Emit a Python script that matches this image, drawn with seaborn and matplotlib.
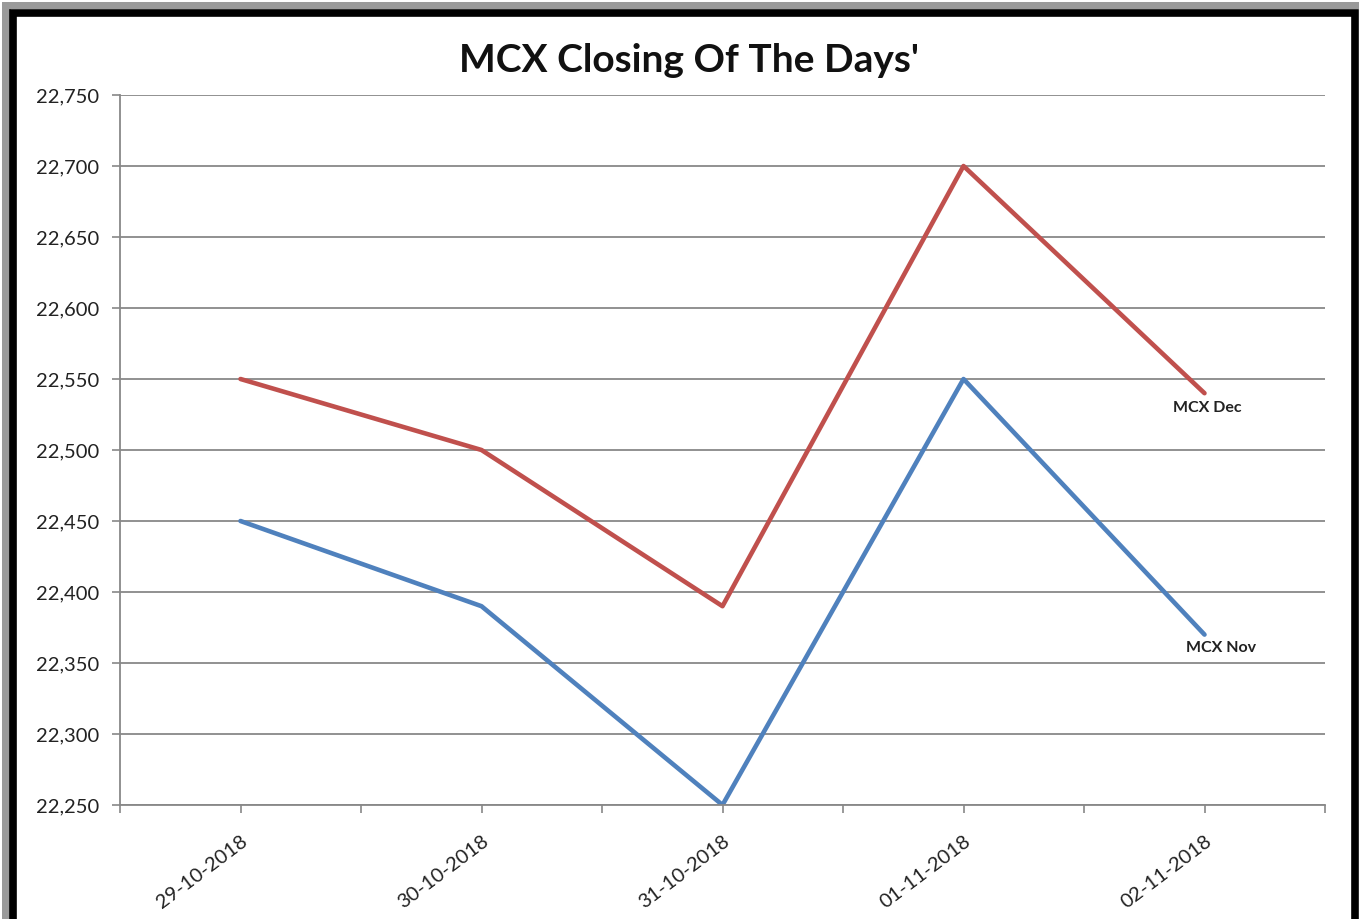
import matplotlib
matplotlib.use("Agg")
import matplotlib.pyplot as plt
import seaborn as sns
import pandas as pd
from matplotlib.patches import Rectangle
from matplotlib.ticker import FuncFormatter, MultipleLocator

dates = ["29-10-2018", "30-10-2018", "31-10-2018", "01-11-2018", "02-11-2018"]
mcx_dec = [22550, 22500, 22390, 22700, 22540]
mcx_nov = [22450, 22390, 22250, 22550, 22370]
series_names = ["MCX Dec", "MCX Nov"]

df = pd.DataFrame({
    "pos": list(range(len(dates))) * 2,
    "value": mcx_dec + mcx_nov,
    "series": [series_names[0]] * len(dates) + [series_names[1]] * len(dates),
})

sns.set_theme(style="white")
plt.rcParams["font.family"] = ["Lato", "DejaVu Sans"]

fig = plt.figure(figsize=(13.63, 9.19), dpi=100)
ax = fig.add_axes([120/1363, 1-805/919, (1325-120)/1363, (805-95)/919])

palette = {"MCX Dec": "#C0504D", "MCX Nov": "#4F81BD"}
sns.lineplot(data=df, x="pos", y="value", hue="series", palette=palette,
             linewidth=3.3, ax=ax, legend=False)

ax.set_xlim(-0.5, len(dates) - 0.5)
ax.set_ylim(22250, 22750)
ax.yaxis.set_major_locator(MultipleLocator(50))
ax.yaxis.set_major_formatter(FuncFormatter(lambda v, p: f"{int(v):,}"))
ax.set_xticks(range(len(dates)))
ax.set_xticklabels(dates, rotation=37, ha="right", rotation_mode="anchor", fontsize=14.5)
ax.xaxis.set_minor_locator(MultipleLocator(0.5))
ax.tick_params(axis="x", which="both", length=6, color="#888888", direction="out",
               bottom=True, width=1.2, pad=14)
ax.tick_params(axis="y", length=6, color="#888888", direction="out", left=True,
               width=1.2, labelsize=14.5, pad=9)
for lab in ax.get_yticklabels() + ax.get_xticklabels():
    lab.set_color("#222222")
ax.set_xlabel("")
ax.set_ylabel("")
ax.grid(axis="y", color="#888888", linewidth=1.3)
ax.set_axisbelow(True)
for s in ["top", "right"]:
    ax.spines[s].set_visible(False)
for s in ["left", "bottom"]:
    ax.spines[s].set_color("#888888")
    ax.spines[s].set_linewidth(1.3)

ax.annotate("MCX Dec", xy=(len(dates) - 1, mcx_dec[-1]), xytext=(2, -11),
            textcoords="offset points", ha="center", va="center",
            fontsize=11.5, fontweight="bold", color="#222222")
ax.annotate("MCX Nov", xy=(len(dates) - 1, mcx_nov[-1]), xytext=(12, -10),
            textcoords="offset points", ha="center", va="center",
            fontsize=11.5, fontweight="bold", color="#222222")

fig.text(689/1363, 1-61/919, "MCX Closing Of The Days'", ha="center", va="center",
         fontsize=28, fontweight="bold", color="#111111")

# figure frame with shadow
fig.patches.append(Rectangle((2/1363, 0), 9/1363, 1-3/919, transform=fig.transFigure,
                             facecolor="#9a9a9a", edgecolor="none", zorder=0))
fig.patches.append(Rectangle((2/1363, 1-9/919), 1-6/1363, 7/919, transform=fig.transFigure,
                             facecolor="#9a9a9a", edgecolor="none", zorder=0))
fig.patches.append(Rectangle((13/1363, -0.01), (1355-13)/1363, 1-13/919+0.01,
                             transform=fig.transFigure, facecolor="none",
                             edgecolor="black", linewidth=5.5, zorder=0))

fig.savefig("out.png", dpi=100)
